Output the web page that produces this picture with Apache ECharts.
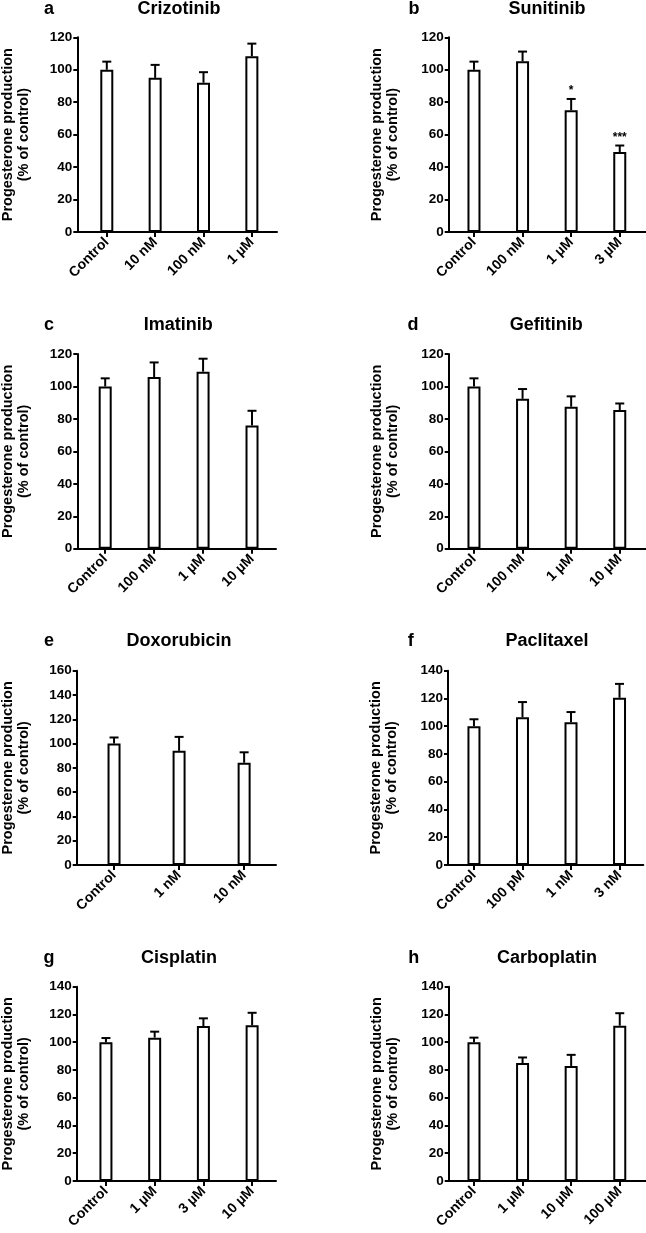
<!DOCTYPE html>
<html>
<head>
<meta charset="utf-8">
<script src="https://cdn.jsdelivr.net/npm/echarts@6/dist/echarts.min.js"></script>
<style>
html,body{margin:0;padding:0;background:#fff;}
#chart{width:646px;height:1233px;}
</style>
</head>
<body>
<div id="chart"></div>
<script>
// ---- data ----
const panelLetters = ['a','b','c','d','e','f','g','h'];
const panelTitles = ['Crizotinib','Sunitinib','Imatinib','Gefitinib','Doxorubicin','Paclitaxel','Cisplatin','Carboplatin'];

const catsA = ['Control','10 nM','100 nM','1 µM'];
const valsA = [100, 95, 92, 108.3];
const errA  = [5, 8, 6.5, 7.8];

const catsB = ['Control','100 nM','1 µM','3 µM'];
const valsB = [100, 105.2, 75, 49.3];
const errB  = [5, 6, 7, 4];
const starsB = ['', '', '*', '***'];

const catsC = ['Control','100 nM','1 µM','10 µM'];
const valsC = [100, 105.8, 109.1, 76];
const errC  = [5, 9, 8, 9];

const catsD = ['Control','100 nM','1 µM','10 µM'];
const valsD = [100, 92.4, 87.5, 85.5];
const errD  = [5, 6, 6.4, 4];

const catsE = ['Control','1 nM','10 nM'];
const valsE = [100, 94, 84.2];
const errE  = [5, 11.5, 8.6];

const catsF = ['Control','100 pM','1 nM','3 nM'];
const valsF = [100, 106.4, 102.8, 120.5];
const errF  = [5, 11, 7.4, 10];

const catsG = ['Control','1 µM','3 µM','10 µM'];
const valsG = [100, 103.3, 111.7, 112.2];
const errG  = [3, 4.3, 5.5, 9];

const catsH = ['Control','1 µM','10 µM','100 µM'];
const valsH = [100, 85, 82.9, 111.9];
const errH  = [3.3, 4, 8, 9];

const yMaxes = [120, 120, 120, 120, 160, 140, 140, 140];
const yStep = 20;
const yAxisName = 'Progesterone production\n(% of control)';

// ---- layout (positions / styling only) ----
const layout = [
  {left:77.3, top:37.3, width:199.7, height:194.7, xMin:-0.61, xMax:3.52, nameGap:45, lx:49,  tx:179,   ty:9.3},
  {left:448.7,top:37.3, width:197.3, height:194.7, xMin:-0.52, xMax:3.54, nameGap:48, lx:414, tx:547,   ty:9.3},
  {left:77.3, top:354,  width:198.7, height:194.7, xMin:-0.57, xMax:3.49, nameGap:45, lx:49,  tx:178.3, ty:325},
  {left:448.7,top:354,  width:197.3, height:194.7, xMin:-0.52, xMax:3.54, nameGap:48, lx:413, tx:546.3, ty:325},
  {left:76.7, top:670.7,width:199.3, height:194.3, xMin:-0.574,xMax:2.49, nameGap:45, lx:49,  tx:179,   ty:640.7},
  {left:448,  top:670.7,width:195.3, height:194.3, xMin:-0.535,xMax:3.49, nameGap:48, lx:410.7,tx:547,  ty:640.7},
  {left:76.7, top:986.7,width:199.3, height:194.3, xMin:-0.60, xMax:3.49, nameGap:45, lx:49,  tx:179,   ty:958.3},
  {left:448.7,top:986.7,width:197.3, height:194.3, xMin:-0.52, xMax:3.54, nameGap:48, lx:413.7,tx:547,  ty:958.3}
];

const panelCats = [catsA,catsB,catsC,catsD,catsE,catsF,catsG,catsH];
const panelVals = [valsA,valsB,valsC,valsD,valsE,valsF,valsG,valsH];
const panelErrs = [errA,errB,errC,errD,errE,errF,errG,errH];
const panelStars = [null, starsB, null, null, null, null, null, null];

const FF = '"Liberation Sans", Arial, Helvetica, sans-serif';
const black = '#000';

const grid = [], xAxis = [], yAxis = [], series = [], graphics = [];

layout.forEach((L, k) => {
  const cats = panelCats[k], vals = panelVals[k], errs = panelErrs[k], stars = panelStars[k];
  grid.push({left:L.left, top:L.top, width:L.width, height:L.height, containLabel:false, outerBoundsMode:'none'});
  const idx = cats.map((c,i)=>i);
  xAxis.push({
    gridIndex:k, type:'value', min:L.xMin, max:L.xMax,
    splitLine:{show:false},
    axisLine:{show:true, onZero:false, lineStyle:{color:black, width:2}},
    axisTick:{show:true, customValues:idx, length:5, lineStyle:{color:black, width:2}},
    axisLabel:{show:true, customValues:idx, rotate:45, margin:8, color:black,
      fontFamily:FF, fontWeight:'bold', fontSize:14,
      formatter:(v)=>cats[Math.round(v)]}
  });
  yAxis.push({
    gridIndex:k, type:'value', min:0, max:yMaxes[k], interval:yStep,
    name:yAxisName, nameLocation:'middle', nameGap:L.nameGap, nameRotate:90,
    nameTextStyle:{color:black, fontFamily:FF, fontWeight:'bold', fontSize:14.5, lineHeight:16, align:'center'},
    splitLine:{show:false},
    axisLine:{show:true, onZero:false, lineStyle:{color:black, width:2}},
    axisTick:{show:true, length:4, lineStyle:{color:black, width:2}},
    axisLabel:{color:black, fontFamily:FF, fontWeight:'bold', fontSize:13.5, margin:5}
  });
  series.push({
    type:'bar', xAxisIndex:k, yAxisIndex:k, barWidth:13,
    data: vals.map((v,i)=>[i, v]),
    itemStyle:{color:'#fff', borderColor:black, borderWidth:2},
    silent:true, z:2
  });
  series.push({
    type:'custom', xAxisIndex:k, yAxisIndex:k, z:3, silent:true,
    data: vals.map((v,i)=>[i, v, errs[i]]),
    renderItem:(params, api)=>{
      const x = api.value(0), v = api.value(1), e = api.value(2);
      const p0 = api.coord([x, v]);
      const p1 = api.coord([x, v + e]);
      const children = [
        {type:'line', shape:{x1:p0[0], y1:p0[1], x2:p1[0], y2:p1[1]}, style:{stroke:black, lineWidth:2}},
        {type:'line', shape:{x1:p1[0]-4.5, y1:p1[1], x2:p1[0]+4.5, y2:p1[1]}, style:{stroke:black, lineWidth:2}}
      ];
      if (stars && stars[params.dataIndex]) {
        children.push({type:'text', x:p1[0], y:p1[1]-2, style:{text:stars[params.dataIndex],
          font:'bold 12px ' + FF, fill:black, align:'center', verticalAlign:'bottom',
          textAlign:'center', textVerticalAlign:'bottom'}});
      }
      return {type:'group', children};
    }
  });
  graphics.push({type:'text', x:L.lx, y:L.ty, style:{text:panelLetters[k], font:'bold 18px ' + FF, fill:black,
    align:'center', verticalAlign:'middle', textAlign:'center', textVerticalAlign:'middle'}});
  graphics.push({type:'text', x:L.tx, y:L.ty, style:{text:panelTitles[k], font:'bold 18px ' + FF, fill:black,
    align:'center', verticalAlign:'middle', textAlign:'center', textVerticalAlign:'middle'}});
});

const chart = echarts.init(document.getElementById('chart'), null, {renderer:'canvas'});
chart.setOption({
  animation:false,
  backgroundColor:'#fff',
  grid, xAxis, yAxis, series,
  graphic:{elements:graphics}
});
</script>
</body>
</html>
